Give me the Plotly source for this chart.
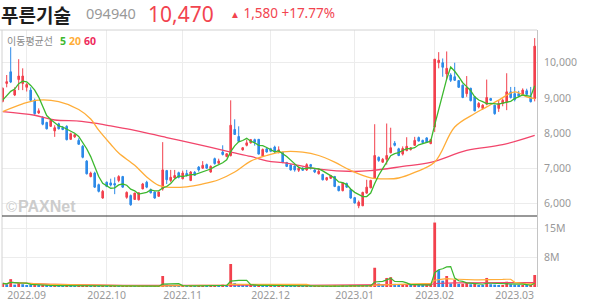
import pandas as pd
import plotly.graph_objects as go

# ---------------- data ----------------
holidays = ["2022-09-09", "2022-09-12", "2022-10-03", "2022-10-10", "2022-12-30",
            "2023-01-23", "2023-01-24", "2023-03-01"]
_days = pd.bdate_range("2022-08-24", "2023-03-09")
dates = [d.strftime("%Y-%m-%d") for d in _days if d.strftime("%Y-%m-%d") not in holidays]

opens = [8900, 9410, 9740, 9080, 9520, 9410, 9300, 9220, 8930, 8570,
         8440, 8300, 8190, 8060, 8260, 8150, 8190, 7820, 7890, 7790,
         7620, 7200, 6760, 6860, 6530, 6150, 6600, 6580, 6560, 6650,
         6760, 6170, 6220, 6110, 6100, 6410, 6600, 6390, 6320, 6200,
         6410, 6930, 6650, 6720, 6870, 6700, 6850, 6650, 6880, 7030,
         7000, 7100, 6890, 7270, 7140, 7460, 7330, 7360, 8100, 7900,
         7520, 7650, 7720, 7810, 7820, 7340, 7550, 7550, 7600, 7480,
         7450, 7160, 7090, 7060, 6940, 7000, 6950, 7100, 6950, 6840,
         6820, 6670, 6710, 6760, 6480, 6360, 6560, 6390, 6160, 5930,
         5930, 6290, 6440, 6720, 7310, 7170, 7250, 7440, 7710, 7550,
         7400, 7500, 7530, 7650, 7870, 7790, 7860, 7700, 8170, 10000,
         10000, 9680, 9650, 9600, 9490, 9360, 9120, 9270, 9030, 8740,
         8700, 8820, 8980, 8790, 8700, 8840, 8880, 9170, 9120, 9120,
         9100, 9200, 9030, 8980]
highs = [9300, 9650, 10440, 9300, 10100, 9840, 9420, 9300, 8980, 8700,
         8480, 8320, 8400, 8220, 8290, 8200, 8220, 8010, 7980, 7850,
         7660, 7230, 6900, 6900, 6560, 6380, 6620, 6700, 6740, 6800,
         6780, 6340, 6250, 6300, 6310, 6580, 6640, 6420, 6340, 6330,
         7740, 6950, 6950, 6950, 6900, 6930, 6950, 6920, 6920, 7060,
         7200, 7130, 7080, 7300, 7270, 7650, 7430, 8930, 8390, 8190,
         7600, 7810, 7830, 7840, 7830, 7560, 7580, 7580, 7640, 7620,
         7470, 7180, 7110, 7080, 7050, 7030, 7140, 7120, 6980, 6990,
         6840, 6750, 6810, 6780, 6500, 6600, 6590, 6400, 6180, 6080,
         6330, 6670, 6670, 8250, 7330, 7290, 8270, 8150, 7770, 7580,
         7620, 7880, 7600, 7890, 7900, 7810, 7880, 7830, 10100, 10300,
         10120, 10320, 9700, 10000, 9500, 9380, 9620, 9290, 9040, 8880,
         8820, 9520, 9000, 8800, 8940, 8980, 9700, 9310, 9310, 9200,
         9270, 9260, 9310, 10700]
lows = [8870, 9300, 9420, 9050, 9220, 9220, 9180, 8900, 8520, 8540,
        8220, 8100, 8170, 7890, 8100, 8080, 7790, 7800, 7860, 7660,
        7280, 6820, 6740, 6440, 6310, 6130, 6460, 6480, 6260, 6600,
        6440, 6130, 5930, 6100, 6080, 6400, 6430, 6280, 6130, 6180,
        6360, 6550, 6600, 6700, 6710, 6680, 6760, 6630, 6780, 6900,
        6980, 6980, 6870, 7100, 7120, 7360, 7310, 7330, 7950, 7740,
        7500, 7620, 7700, 7640, 7390, 7330, 7440, 7460, 7440, 7420,
        7140, 7030, 6930, 6900, 6890, 6920, 6920, 6960, 6860, 6820,
        6650, 6640, 6690, 6460, 6340, 6340, 6440, 6130, 5990, 5860,
        5920, 6270, 6430, 6700, 7180, 7150, 7100, 7420, 7620, 7340,
        7360, 7480, 7500, 7630, 7760, 7710, 7720, 7680, 8030, 9840,
        9600, 9520, 9450, 9480, 9280, 8990, 9030, 8900, 8620, 8700,
        8660, 8790, 8910, 8520, 8600, 8760, 8650, 8980, 8900, 9020,
        9050, 9080, 8870, 8900]
closes = [9270, 9460, 9450, 9220, 9620, 9620, 9380, 8930, 8550, 8630,
          8250, 8120, 8360, 8150, 8120, 8100, 7810, 7980, 7950, 7680,
          7310, 6840, 6860, 6460, 6340, 6340, 6480, 6520, 6520, 6760,
          6460, 6310, 5960, 6290, 6300, 6550, 6460, 6300, 6150, 6320,
          6950, 6670, 6740, 6790, 6740, 6860, 6790, 6890, 6800, 6950,
          7080, 7000, 7050, 7130, 7200, 7390, 7410, 8220, 7960, 7760,
          7580, 7720, 7810, 7740, 7400, 7530, 7460, 7480, 7460, 7520,
          7160, 7050, 6950, 6950, 7000, 6940, 7100, 7050, 6890, 6910,
          6670, 6730, 6790, 6480, 6360, 6580, 6460, 6150, 6010, 6030,
          6310, 6460, 6650, 7360, 7220, 7250, 7360, 7580, 7650, 7360,
          7560, 7620, 7580, 7790, 7770, 7730, 7740, 7810, 10100, 10070,
          9870, 9840, 9500, 9500, 9300, 9010, 9290, 8920, 8630, 8840,
          8790, 9010, 8930, 8550, 8840, 8930, 9170, 9010, 8950, 9050,
          9220, 9100, 8890, 10470]
# closes before the visible window (estimated from the start of the 5-day line)
pre_closes = [8800, 8850, 8900, 8850]

volumes_m = [0.9, 0.7, 2.0, 0.6, 1.1, 0.7, 0.5, 0.45, 0.5, 0.35,
             0.4, 0.35, 0.3, 0.35, 0.3, 0.25, 0.35, 0.3, 0.25, 0.25,
             0.3, 0.35, 0.25, 0.3, 0.25, 0.3, 0.2, 0.2, 0.25, 0.2,
             0.2, 0.25, 0.25, 0.2, 0.2, 0.25, 0.2, 0.15, 0.2, 0.2,
             2.8, 0.6, 0.35, 0.3, 0.25, 0.3, 0.25, 0.3, 0.25, 0.3,
             0.35, 0.25, 0.3, 0.35, 0.3, 0.6, 0.4, 5.85, 1.0, 0.7,
             0.45, 0.4, 0.45, 0.35, 0.5, 0.4, 0.3, 0.3, 0.25, 0.3,
             0.35, 0.3, 0.25, 0.2, 0.25, 0.2, 0.25, 0.2, 0.2, 0.25,
             0.25, 0.2, 0.2, 0.3, 0.25, 0.3, 0.2, 0.3, 0.35, 0.3,
             0.4, 0.35, 0.4, 4.9, 0.9, 0.6, 2.3, 2.5, 0.8, 0.6,
             0.6, 0.7, 0.4, 0.6, 0.5, 0.35, 0.4, 0.5, 16.4, 4.3,
             1.6, 2.8, 0.9, 1.8, 0.8, 0.8, 1.0, 0.7, 0.9, 0.5,
             0.4, 2.3, 0.7, 0.6, 0.5, 0.5, 1.35, 0.7, 0.6, 0.4,
             0.5, 0.35, 0.45, 3.05]

# 20- and 60-day averages (their history starts before the window)
ma20_idx = [0, 5, 9, 14, 19, 22, 24, 27, 29, 33, 36, 39, 41, 46, 50, 54, 58, 62, 66, 70,
            75, 79, 83, 87, 92, 96, 99, 103, 108, 113, 118, 121, 124, 128, 131, 133]
ma20_val = [8610, 8830, 8935, 8890, 8670, 8400, 8080, 7680, 7430, 7080, 6750, 6510, 6460,
            6470, 6550, 6670, 6890, 7200, 7360, 7465, 7455, 7360, 7170, 6935, 6725, 6695,
            6720, 6880, 7173, 8170, 8553, 8743, 8934, 9172, 9029, 8981]
ma60_idx = [0, 8, 13, 19, 23, 27, 33, 41, 49, 57, 62, 66, 71, 79, 88, 92, 100, 107, 116, 125, 133]
ma60_val = [8610, 8505, 8370, 8340, 8280, 8200, 8076, 7870, 7670, 7457, 7333, 7210, 7143,
            6970, 6905, 6930, 7048, 7162, 7505, 7667, 7930]

month_ticks = ["2022-09-01", "2022-10-04", "2022-11-01", "2022-12-01",
               "2023-01-02", "2023-02-01", "2023-03-02"]
month_labels = ["2022.09", "2022.10", "2022.11", "2022.12", "2023.01", "2023.02", "2023.03"]
price_ticks = [6000, 7000, 8000, 9000, 10000]
vol_ticks = [7.5e6, 15e6]
vol_tick_labels = ["8M", "15M"]

stock_name = "푸른기술"
stock_code = "094940"

# ---------------- derived ----------------
volumes = [v * 1e6 for v in volumes_m]
ma5 = pd.Series(pre_closes + closes).rolling(5).mean().tolist()[len(pre_closes):]
vs = pd.Series(volumes)
vma5 = vs.rolling(5, min_periods=1).mean()
vma20 = vs.rolling(20, min_periods=1).mean()
vma60 = vs.rolling(60, min_periods=1).mean()

RED = "#f2414d"
BLUE = "#2d8ae8"
GREEN = "#3cb82e"
ORANGE = "#ffad38"
PINK = "#f2456b"

vol_colors = [RED if i == 0 or volumes[i] >= volumes[i - 1] else BLUE for i in range(len(volumes))]

fig = go.Figure()
fig.add_trace(go.Candlestick(
    x=dates, open=opens, high=highs, low=lows, close=closes,
    increasing=dict(line=dict(color=RED, width=1), fillcolor=RED),
    decreasing=dict(line=dict(color=BLUE, width=1), fillcolor=BLUE),
    whiskerwidth=0, xaxis="x", yaxis="y", hoverinfo="skip"))
fig.add_trace(go.Scatter(x=[dates[i] for i in ma60_idx], y=ma60_val, mode="lines",
                         line=dict(color=PINK, width=1.3, shape="spline"), xaxis="x", yaxis="y"))
fig.add_trace(go.Scatter(x=[dates[i] for i in ma20_idx], y=ma20_val, mode="lines",
                         line=dict(color=ORANGE, width=1.3, shape="spline"), xaxis="x", yaxis="y"))
fig.add_trace(go.Scatter(x=dates, y=ma5, mode="lines",
                         line=dict(color=GREEN, width=1.3), xaxis="x", yaxis="y"))

fig.add_trace(go.Bar(x=dates, y=volumes, marker=dict(color=vol_colors, line=dict(width=0)),
                     xaxis="x2", yaxis="y2"))
fig.add_trace(go.Scatter(x=dates, y=vma60, mode="lines", line=dict(color=PINK, width=1.2),
                         xaxis="x2", yaxis="y2"))
fig.add_trace(go.Scatter(x=dates, y=vma20, mode="lines", line=dict(color=ORANGE, width=1.2),
                         xaxis="x2", yaxis="y2"))
fig.add_trace(go.Scatter(x=dates, y=vma5, mode="lines", line=dict(color=GREEN, width=1.2),
                         xaxis="x2", yaxis="y2"))

W, H = 594, 304
ML, MR, MT, MB = 2, 57, 30, 17
PW, PH = W - ML - MR, H - MT - MB
split = (287 - 216) / PH

def px(x):
    return (x - ML) / PW

def py(y):
    return (H - MB - y) / PH

tick_font = dict(family="Noto Sans", size=10.5, color="#999999")
grid = "#ececec"
xr = [-0.175, len(dates) - 1 + 0.575]

fig.update_layout(
    width=W, height=H, margin=dict(l=ML, r=MR, t=MT, b=MB, autoexpand=False),
    paper_bgcolor="white", plot_bgcolor="white", showlegend=False, hovermode=False,
    boxgap=0.42, bargap=0.3,
    xaxis=dict(type="category", domain=[0, 1], anchor="y", range=xr, rangeslider=dict(visible=False),
               tickvals=month_ticks, showticklabels=False, showgrid=True, gridcolor=grid,
               gridwidth=1, ticks="", showline=False, zeroline=False),
    xaxis2=dict(type="category", domain=[0, 1], anchor="y2", range=xr, matches="x",
                tickvals=month_ticks, ticktext=month_labels, showgrid=True, gridcolor=grid,
                ticks="", showline=False, tickfont=tick_font, automargin=False),
    yaxis=dict(domain=[split, 1], range=[5639, 10930], side="right", tickvals=price_ticks,
               tickformat=",", showgrid=True, gridcolor=grid, showline=True, linecolor="#c4c4c4",
               linewidth=1, ticks="", tickfont=tick_font, zeroline=False, automargin=False,
               ticklabelstandoff=4),
    yaxis2=dict(domain=[0, split], range=[0, 18.07e6], side="right", tickvals=vol_ticks,
                ticktext=vol_tick_labels, showgrid=True, gridcolor=grid, showline=True,
                linecolor="#c4c4c4", linewidth=1, ticks="", tickfont=tick_font, zeroline=False,
                automargin=False, ticklabelstandoff=4),
)

fig.add_shape(type="line", xref="paper", yref="paper", x0=px(0), x1=1, y0=1, y1=1,
              line=dict(color="#d2d2d2", width=1))
fig.add_shape(type="line", xref="paper", yref="paper", x0=0, x1=0, y0=0, y1=1,
              line=dict(color="#d2d2d2", width=1))
fig.add_shape(type="line", xref="paper", yref="paper", x0=0, x1=1, y0=split, y1=split,
              line=dict(color="#333333", width=1.2))

change = closes[-1] - closes[-2]
pct = change / closes[-2] * 100

ann = [
    dict(text="<b>" + stock_name + "</b>", x=px(0), y=py(14), font=dict(family="Noto Sans CJK KR", size=19, color="#1e1e1e")),
    dict(text=stock_code, x=px(85), y=py(13), font=dict(family="Noto Sans", size=14.5, color="#999999")),
    dict(text=f"{closes[-1]:,}", x=px(147), y=py(14), font=dict(family="Noto Sans", size=21, color="#f2444f")),
    dict(text=f"<span style='font-size:10px'>▲</span> {change:,} +{pct:.2f}%", x=px(229), y=py(13),
         font=dict(family="Noto Sans", size=13.5, color="#f2444f")),
    dict(text="이동평균선", x=px(6), y=py(41), font=dict(family="Noto Sans CJK KR", size=10, color="#8a8a8a")),
    dict(text="<b>5</b>", x=px(58.5), y=py(41), font=dict(family="Noto Sans", size=10.5, color=GREEN)),
    dict(text="<b>20</b>", x=px(67.5), y=py(41), font=dict(family="Noto Sans", size=10.5, color=ORANGE)),
    dict(text="<b>60</b>", x=px(82.5), y=py(41), font=dict(family="Noto Sans", size=10.5, color="#ee2a5c")),
    dict(text="©", x=px(4.5), y=py(206), font=dict(family="Liberation Sans", size=15, color="#cccccc")),
    dict(text="<b>PAXNet</b>", x=px(17), y=py(206), font=dict(family="Liberation Sans", size=16, color="#cccccc")),
]
for a in ann:
    fig.add_annotation(xref="paper", yref="paper", xanchor="left", yanchor="middle",
                       showarrow=False, borderpad=0, **a)

fig.write_html("out.html")
